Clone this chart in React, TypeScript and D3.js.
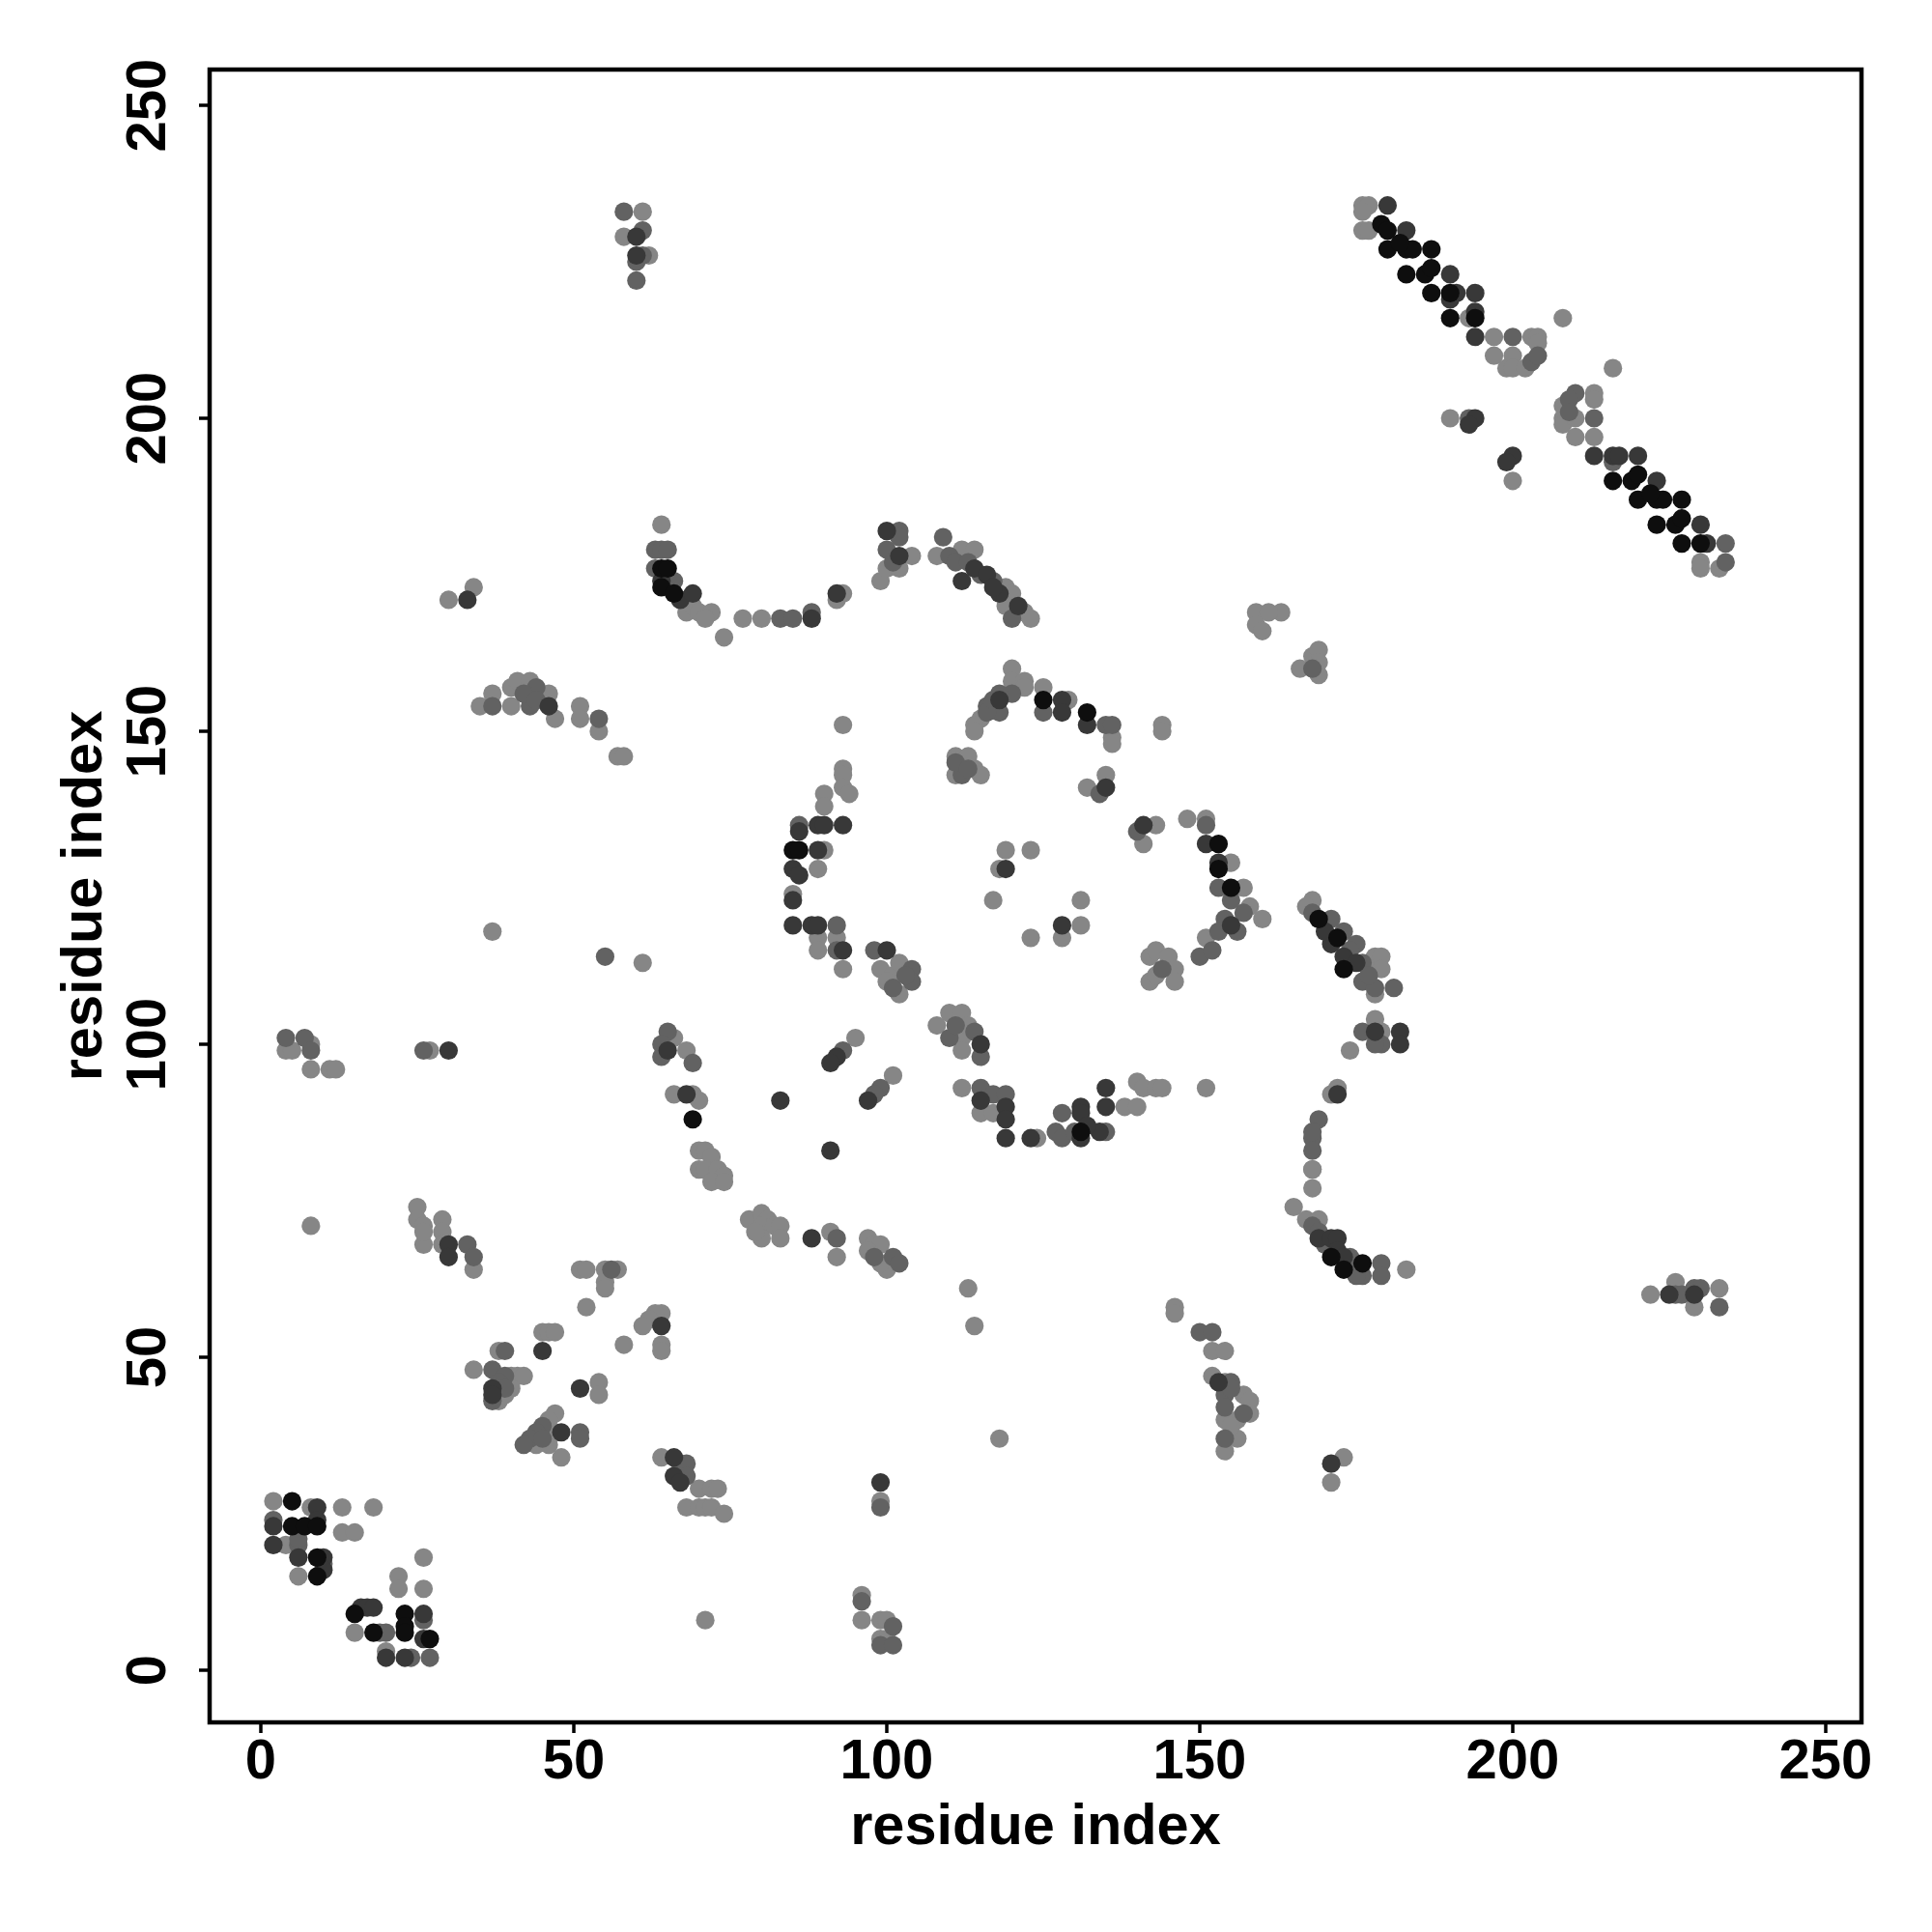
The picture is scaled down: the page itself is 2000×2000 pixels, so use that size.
import React from "react";
import * as d3 from "d3";

// contact level: 0 light grey, 1 medium, 2 dark, 3 black
type C = [number, number, number];

const clusterBottomLeft: C[] = [
  [2,27,0],[5,27,3],[8,26,0],[9,26,2],[13,26,0],[18,26,0],
  [2,24,1],[2,23,2],[5,23,3],[7,23,3],[9,23,3],[9,24,2],
  [13,22,0],[15,22,0],[2,20,2],[4,20,0],[6,20,1],[6,21,1],
  [6,18,2],[9,18,3],[10,18,2],[10,17,1],[9,15,3],[6,15,0],[10,16,2],
  [26,18,0],[22,15,0],[22,13,0],[26,13,0],
  [15,9,3],[16,10,2],[17,10,2],[18,10,2],[15,6,0],[18,6,3],[19,6,1],[20,6,1],
  [23,9,3],[23,7,3],[23,6,3],[26,9,2],[26,8,1],[27,5,3],[26,5,2],
  [20,3,0],[20,2,2],[23,2,2],[24,2,1],[27,2,1],
];

const clusterLowLeft: C[] = [
  [8,71,0],
  [25,74,0],[25,72,0],[26,71,0],[26,68,0],[29,72,0],[29,70,0],[29,68,0],[30,68,2],[30,66,2],
  [33,68,1],[34,66,1],[34,64,0],[26,70,0],
  [51,64,0],[52,64,0],[55,64,0],[56,64,1],[57,64,0],[55,62,0],[55,61,0],[52,58,0],
  [64,57,0],[63,57,0],[64,55,2],[62,56,0],[61,55,0],[58,52,0],[64,52,0],[64,51,0],
  [45,54,0],[46,54,0],[47,54,0],[45,51,2],
  [38,51,0],[39,51,1],[34,48,0],[37,48,1],[39,47,1],[40,47,0],[41,47,0],[42,47,0],
  [37,45,2],[38,46,1],[39,45,1],[37,44,2],[37,43,1],[38,43,0],[39,44,0],[40,45,0],
  [47,41,0],[46,40,0],[45,39,1],[44,38,1],[43,37,1],[42,36,1],[44,36,0],[46,36,0],
  [48,38,2],[51,38,1],[51,37,1],[48,34,0],[47,38,0],[45,37,1],
  [51,45,2],[54,46,0],[54,44,0],
  [64,34,0],[66,34,2],[67,33,1],[68,33,1],[66,31,2],[67,30,2],[68,31,1],
  [70,29,0],[72,29,0],[73,29,0],[68,26,0],[70,26,0],[71,26,0],[72,26,0],[74,25,0],
  [71,8,0],
  [70,83,0],[71,83,0],[72,82,0],[70,80,0],[71,80,0],[73,80,0],[74,79,0],[72,78,0],[74,78,0],
  [78,72,0],[80,73,0],[81,72,0],[80,71,0],[82,71,0],[83,71,0],[80,69,0],[83,69,0],[79,70,0],
  [88,69,2],[91,70,0],[92,69,1],[92,66,0],[97,69,0],[98,68,0],[99,68,0],[97,67,0],
  [98,66,1],[100,64,0],[99,65,0],[101,66,1],[102,65,1],
  [113,61,0],[114,55,0],[118,37,0],[99,30,2],[99,27,0],[99,26,1],
  [96,12,0],[96,11,1],[96,8,0],[99,8,0],[100,8,0],[101,7,1],[99,5,0],[99,4,1],[100,5,0],[101,4,1],
];

const clusterLowRight: C[] = [
  [146,58,0],[146,57,0],[150,54,1],[152,54,1],[152,51,0],[154,51,0],
  [152,47,0],[153,46,2],[154,46,0],[155,46,1],[154,44,1],[155,45,1],[157,44,0],[158,43,0],
  [154,42,1],[157,41,1],[158,41,0],[154,40,0],[156,40,0],[156,37,0],[154,37,1],[154,35,0],[155,39,0],
  [165,74,0],[168,80,0],[168,77,0],[167,72,0],[169,72,0],[168,71,1],[169,70,1],[169,69,2],
  [171,69,2],[172,69,2],[171,66,3],[173,64,3],[172,67,2],[174,66,1],[175,65,1],[176,65,3],
  [176,63,1],[175,63,1],[179,65,1],[179,63,1],[183,64,0],[170,68,1],[173,66,2],
  [222,60,0],[225,60,2],[226,62,0],[226,60,1],[227,60,1],[229,61,1],[230,61,1],[229,58,0],
  [233,61,0],[233,58,1],[229,60,2],
  [171,33,2],[173,34,0],[171,30,0],
];

const clusterUpLeft: C[] = [
  [35,154,0],[37,154,1],[37,156,0],[40,154,0],[40,157,0],[41,158,0],[43,158,0],[43,154,1],
  [44,157,1],[46,156,0],[46,154,2],[47,152,0],[51,154,0],[51,152,0],[54,152,1],[54,150,0],
  [57,146,0],[58,146,0],[42,156,1],[44,155,1],
  [37,118,0],[55,114,1],[61,113,0],
  [4,101,1],[7,101,1],[4,99,0],[5,99,0],[8,100,0],[8,99,1],[8,96,0],[11,96,0],[12,96,0],
  [26,99,1],[27,99,0],[30,99,2],
  [65,102,1],[64,100,1],[64,98,1],[66,101,0],[65,99,2],[68,99,0],[69,97,1],
  [66,92,0],[68,92,2],[69,92,0],[70,91,0],[69,88,3],
  [58,233,1],[61,233,0],[58,229,0],[60,229,2],[61,230,1],[60,226,2],[61,226,1],[62,226,0],
  [60,225,1],[60,222,1],
  [30,171,0],[33,171,2],[34,173,0],
  [64,183,0],[63,179,1],[64,179,1],[65,179,1],[63,176,1],[64,176,3],[65,176,3],[64,174,2],
  [66,174,1],[64,173,3],[66,172,3],[67,171,2],[69,172,2],[68,169,0],[69,170,0],[70,169,0],
  [72,169,0],[71,168,0],[74,165,0],[77,168,0],[80,168,0],[83,168,1],[85,168,1],[88,169,1],[88,168,2],
  [92,172,2],[93,172,0],[92,171,0],[99,174,0],
  [100,182,2],[102,182,1],[102,181,1],[100,179,1],[102,178,2],[104,178,0],[100,176,0],[102,176,0],[101,177,1],
  [109,181,1],[108,178,0],[110,178,1],[112,179,0],[114,179,0],[111,177,1],[113,177,1],[112,174,2],
  [114,176,2],[115,175,1],[117,174,1],[119,173,0],[120,172,0],[119,170,0],[122,169,0],[123,168,0],
  [120,168,1],[116,175,2],[118,172,2],[117,173,2],[121,170,2],
  [159,169,0],[163,169,0],[159,167,0],[161,169,0],[160,166,0],[166,160,0],[168,162,0],
  [169,163,0],[169,161,0],[169,159,0],[168,160,1],
];

const clusterUpRight: C[] = [
  [176,234,0],[177,234,0],[180,234,2],[176,233,0],[176,230,0],[177,230,0],[179,231,3],[180,230,3],[183,230,2],
  [180,227,3],[183,227,3],[184,227,3],[187,227,3],[182,228,3],
  [183,223,3],[186,223,3],[187,224,3],[190,223,2],
  [187,220,3],[190,220,3],[191,220,2],[194,220,2],[190,219,2],
  [190,216,3],[193,216,0],[194,217,2],[194,216,3],
  [194,213,2],[197,213,0],[200,213,1],[203,213,0],[204,213,0],[204,212,0],
  [197,210,0],[200,210,0],[199,208,0],[200,208,0],[202,208,0],[203,209,1],[204,210,1],
  [208,216,0],[216,208,0],
  [190,200,0],[193,200,1],[194,200,2],[193,199,2],
  [200,194,2],[199,193,2],[200,190,0],
  [210,204,1],[213,204,0],[213,203,0],[209,203,1],[208,202,0],[208,200,0],[208,199,0],
  [210,200,0],[213,200,1],[210,197,0],[213,197,0],[209,201,1],
  [213,194,2],[216,194,2],[217,194,2],[220,194,2],[216,193,1],
  [216,190,3],[219,190,3],[220,191,3],[223,190,2],
  [220,187,3],[223,187,3],[224,187,3],[227,187,3],[222,188,3],
  [223,183,3],[226,183,3],[227,184,3],[230,183,2],
  [227,180,3],[230,180,3],[231,180,2],[234,180,1],
  [230,177,0],[230,176,0],[233,176,0],[234,177,1],
];

const clusterCenter: C[] = [
  [93,151,0],[93,144,0],[93,143,0],[93,141,0],[94,140,0],[90,140,0],[90,138,0],
  [93,135,2],[86,135,1],[86,134,2],[89,135,2],[90,135,2],[85,131,3],[86,131,3],[89,131,2],[90,131,0],
  [85,128,2],[86,127,2],[89,128,0],[85,124,0],[85,123,2],
  [85,119,2],[88,119,2],[89,119,2],[92,119,1],[92,117,0],[92,115,1],[89,117,0],[89,115,0],[93,115,2],[93,112,0],
  [98,115,1],[100,115,2],[99,112,0],[101,111,0],[102,113,0],[104,112,1],[104,110,1],[102,108,0],
  [100,110,0],[101,109,1],[103,111,1],
  [110,105,0],[112,105,0],[108,103,0],[110,101,1],[112,101,0],[113,103,0],[115,100,2],[115,98,1],
  [112,99,0],[111,103,1],[114,102,1],
  [95,101,0],[93,99,1],[92,98,2],[91,97,2],[101,95,0],[99,93,1],[98,92,1],[97,91,2],
  [83,91,2],[91,83,2],
  [112,93,0],[115,93,1],[115,91,2],[117,92,1],[119,92,1],[115,89,0],[117,89,0],[119,90,2],[119,88,2],[119,85,2],
  [123,85,2],[124,85,0],[127,86,1],[128,85,1],[128,89,1],[131,90,2],[131,89,2],[131,86,3],[131,85,2],
  [134,86,2],[135,86,1],[135,90,2],[135,93,2],[130,86,1],[132,87,2],
  [138,90,0],[140,90,0],[140,94,0],[141,93,0],[143,93,0],[144,93,0],[151,93,0],
  [119,131,0],[123,131,0],[118,128,0],[119,128,2],[117,123,0],[131,123,0],[123,117,0],
  [128,119,2],[128,117,0],[131,119,0],
  [111,146,0],[113,146,0],[111,143,0],[112,143,1],[114,144,0],[115,143,0],[111,145,1],[113,144,1],
  [120,160,0],[120,158,0],[120,156,1],[122,158,0],[122,157,0],[118,156,1],[118,155,2],[118,153,1],
  [116,154,1],[116,153,1],[115,152,0],[114,151,0],[114,150,0],[117,155,1],
  [125,157,0],[125,155,3],[125,153,1],[128,155,2],[129,155,0],[128,153,2],[132,153,3],[132,151,2],
  [135,151,1],[136,151,1],[136,149,0],[136,148,0],[144,151,0],[144,150,0],
  [135,143,0],[135,141,2],[134,140,1],[132,141,0],
  [141,135,2],[143,135,0],[141,132,0],[140,134,1],
  [148,136,0],[151,136,0],[151,135,1],[151,132,2],[153,132,3],[153,129,2],[155,129,0],[153,128,3],
  [153,125,1],[155,125,3],[157,125,0],[155,123,1],[158,122,0],[160,120,0],[154,120,1],[155,119,2],
  [156,118,1],[153,118,1],[151,117,0],[150,114,1],[152,115,1],[157,121,1],
  [142,114,0],[143,115,0],[145,114,0],[146,112,0],[142,110,0],[144,112,1],[146,110,0],[143,111,0],
];

const clusterRight: C[] = [
  [168,123,0],[167,122,0],[168,121,1],[169,120,3],[171,120,1],[173,118,1],[171,116,2],[173,114,2],
  [175,116,1],[173,112,3],[176,113,1],[177,113,0],[178,114,0],[179,114,0],[179,112,0],[176,110,1],
  [178,109,1],[178,108,0],[181,109,1],[170,118,2],[172,117,3],[174,115,1],[175,113,2],[177,111,1],
  [178,104,0],[176,102,1],[178,102,2],[179,102,0],[182,102,2],[182,100,2],[179,100,1],[174,99,0],[178,100,1],
  [172,93,0],[172,92,2],[171,92,0],[169,88,1],[168,85,1],[168,83,1],[168,80,0],[168,86,1],
];

const allContacts: C[] = [
  ...clusterBottomLeft, ...clusterLowLeft, ...clusterLowRight,
  ...clusterUpLeft, ...clusterUpRight, ...clusterCenter, ...clusterRight,
];

const tickValues = [0, 50, 100, 150, 200, 250];
const levelColors = ["#868686", "#626262", "#383838", "#0e0e0e"];

export default function App() {
  const x = d3.scaleLinear().domain([0, 250]).range([270, 1890]);
  const y = d3.scaleLinear().domain([0, 250]).range([1729, 109]);
  const box = { x0: 217, x1: 1927, y0: 72, y1: 1783 };
  const sorted = [...allContacts].sort((a, b) => a[2] - b[2]);
  const font = "'Liberation Sans', Arial, Helvetica, sans-serif";
  return (
    <svg width={2000} height={2000} style={{ position: "absolute", left: 0, top: 0, background: "#fff" }}>
      <rect x={0} y={0} width={2000} height={2000} fill="#fff" />
      <g>
        {sorted.map((c, i) => (
          <circle key={i} cx={x(c[0])} cy={y(c[1])} r={9.6} fill={levelColors[c[2]]} />
        ))}
      </g>
      <rect x={box.x0} y={box.y0} width={box.x1 - box.x0} height={box.y1 - box.y0} fill="none" stroke="#000" strokeWidth={4.5} />
      {tickValues.map((t) => (
        <g key={"x" + t}>
          <line x1={x(t)} x2={x(t)} y1={box.y1} y2={box.y1 + 11} stroke="#000" strokeWidth={3.5} />
          <text x={x(t)} y={1841} textAnchor="middle" fontFamily={font} fontWeight="bold" fontSize={58}>{t}</text>
        </g>
      ))}
      {tickValues.map((t) => (
        <g key={"y" + t}>
          <line x1={box.x0 - 11} x2={box.x0} y1={y(t)} y2={y(t)} stroke="#000" strokeWidth={3.5} />
          <text transform={`translate(171,${y(t)}) rotate(-90)`} textAnchor="middle" fontFamily={font} fontWeight="bold" fontSize={58}>{t}</text>
        </g>
      ))}
      <text x={(box.x0 + box.x1) / 2} y={1909} textAnchor="middle" fontFamily={font} fontWeight="bold" fontSize={59.5}>residue index</text>
      <text transform={`translate(105,${(box.y0 + box.y1) / 2}) rotate(-90)`} textAnchor="middle" fontFamily={font} fontWeight="bold" fontSize={59.5}>residue index</text>
    </svg>
  );
}
